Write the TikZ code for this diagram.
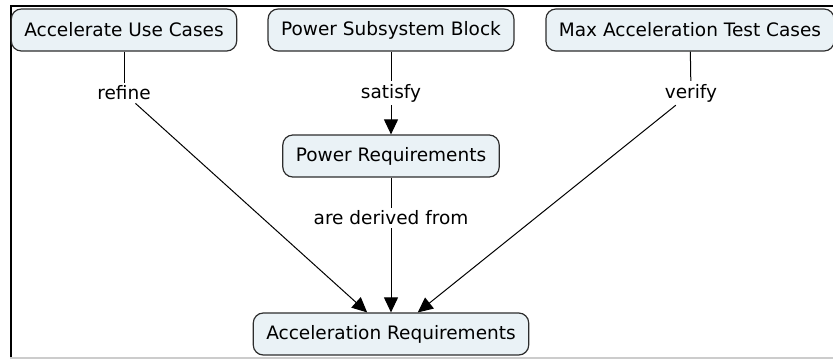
\documentclass[tikz,border=0pt]{standalone}
\usepackage{fontspec}
\setmainfont{DejaVu Sans}
\usetikzlibrary{arrows.meta}

\definecolor{conceptfill}{RGB}{234,242,246}
\definecolor{conceptline}{RGB}{45,45,45}

\begin{document}
\begin{tikzpicture}[x=1pt, y=-1pt,
    concept/.style={draw=conceptline, line width=1.2pt, fill=conceptfill, rounded corners=10pt,
        inner xsep=13pt, minimum height=42pt, font=\fontsize{18.5}{21}\selectfont},
    linkword/.style={inner sep=3pt, font=\fontsize{18.5}{21}\selectfont},
    link/.style={line width=1pt},
    linkto/.style={line width=1pt, -{Triangle[length=15pt, width=14pt]}}]
    % Frame
    \useasboundingbox (0,0) rectangle (833,359);
    \draw[line width=2pt] (10.5,359) -- (10.5,5.5) -- (833,5.5);
    \draw[gray!40, line width=1.5pt] (10,358) -- (833,358);

    % Concepts
    \node[concept] (usecases) at (124,30) {Accelerate Use Cases};
    \node[concept] (powerblock) at (391,30) {Power Subsystem Block};
    \node[concept] (maxtests) at (690,30) {Max Acceleration Test Cases};
    \node[concept] (powerreq) at (391,156) {Power Requirements};
    \node[concept] (accreq) at (391,334) {Acceleration Requirements};

    % Linking phrases
    \node[linkword] (refine) at (124,93) {refine};
    \node[linkword] (satisfy) at (391,93) {satisfy};
    \node[linkword] (verify) at (691,93) {verify};
    \node[linkword] (derived) at (391,218) {are derived from};

    % Links
    \draw[link] (usecases) -- (refine);
    \draw[linkto] (refine) -- (accreq);
    \draw[link] (powerblock) -- (satisfy);
    \draw[linkto] (satisfy) -- (powerreq);
    \draw[link] (maxtests) -- (verify);
    \draw[linkto] (verify) -- (accreq);
    \draw[link] (powerreq) -- (derived);
    \draw[linkto] (derived) -- (accreq);
\end{tikzpicture}
\end{document}
